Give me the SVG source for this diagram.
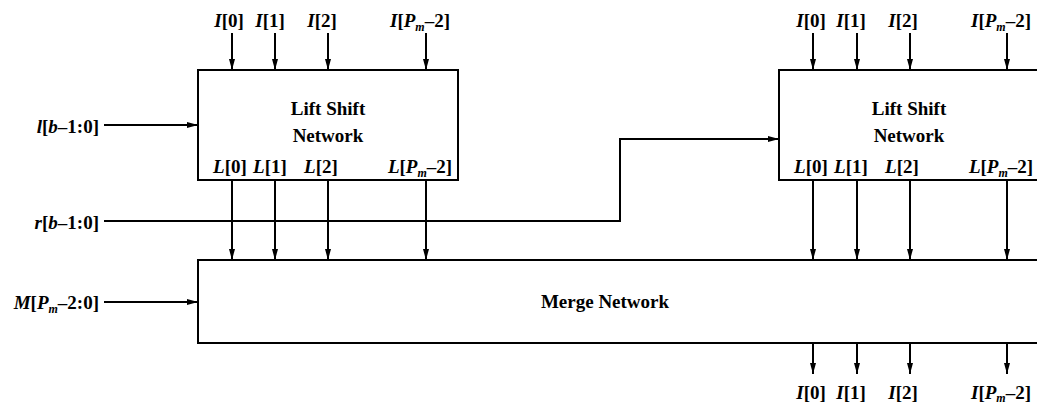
<svg xmlns="http://www.w3.org/2000/svg" width="1037" height="407" viewBox="0 0 1037 407">
<style>
.box{fill:#fff;stroke:#000;stroke-width:2}
.ln{fill:none;stroke:#000;stroke-width:2}
text{font-family:"Liberation Serif","Times New Roman",serif;font-weight:bold;font-size:19px;fill:#000}
.c{text-anchor:middle}
.e{text-anchor:end}
.i{font-style:italic}
.s{font-style:italic;font-size:12px}
</style>
<defs>
<marker id="ah" markerWidth="11" markerHeight="6" refX="11" refY="3" orient="auto" markerUnits="userSpaceOnUse">
<path d="M0,0 L11,3 L0,6 z" fill="#000"/>
</marker>
</defs>
<rect width="1037" height="407" fill="#fff"/>
<g id="lift1">
<rect class="box" x="198" y="70" width="260" height="110"/>
<text class="c" x="328" y="115">Lift Shift</text>
<text class="c" x="328" y="142">Network</text>
<text class="c" x="230" y="173"><tspan class="i">L</tspan>[0]</text>
<text class="c" x="270" y="173"><tspan class="i">L</tspan>[1]</text>
<text class="c" x="321" y="173"><tspan class="i">L</tspan>[2]</text>
<text class="c" x="420" y="173"><tspan class="i">L</tspan>[<tspan class="i">P</tspan><tspan class="s" dy="4">m</tspan><tspan dy="-4">–2]</tspan></text>
</g>
<g id="lift2">
<rect class="box" x="779" y="70" width="270" height="110"/>
<text class="c" x="909" y="115">Lift Shift</text>
<text class="c" x="909" y="142">Network</text>
<text class="c" x="811" y="173"><tspan class="i">L</tspan>[0]</text>
<text class="c" x="851" y="173"><tspan class="i">L</tspan>[1]</text>
<text class="c" x="902" y="173"><tspan class="i">L</tspan>[2]</text>
<text class="c" x="1001" y="173"><tspan class="i">L</tspan>[<tspan class="i">P</tspan><tspan class="s" dy="4">m</tspan><tspan dy="-4">–2]</tspan></text>
</g>
<g id="merge">
<rect class="box" x="198" y="260" width="850" height="83"/>
<text class="c" x="605" y="308">Merge Network</text>
</g>
<g id="labels">
<text class="c" x="229" y="27"><tspan class="i">I</tspan>[0]</text>
<text class="c" x="270" y="27"><tspan class="i">I</tspan>[1]</text>
<text class="c" x="322" y="27"><tspan class="i">I</tspan>[2]</text>
<text class="c" x="420" y="27"><tspan class="i">I</tspan>[<tspan class="i">P</tspan><tspan class="s" dy="4">m</tspan><tspan dy="-4">–2]</tspan></text>
<text class="c" x="811" y="27"><tspan class="i">I</tspan>[0]</text>
<text class="c" x="851" y="27"><tspan class="i">I</tspan>[1]</text>
<text class="c" x="903" y="27"><tspan class="i">I</tspan>[2]</text>
<text class="c" x="1001" y="27"><tspan class="i">I</tspan>[<tspan class="i">P</tspan><tspan class="s" dy="4">m</tspan><tspan dy="-4">–2]</tspan></text>
<text class="c" x="811" y="399"><tspan class="i">I</tspan>[0]</text>
<text class="c" x="851" y="399"><tspan class="i">I</tspan>[1]</text>
<text class="c" x="903" y="399"><tspan class="i">I</tspan>[2]</text>
<text class="c" x="1001" y="399"><tspan class="i">I</tspan>[<tspan class="i">P</tspan><tspan class="s" dy="3">m</tspan><tspan dy="-3">–2]</tspan></text>
<text class="e" x="99" y="133"><tspan class="i">l</tspan>[<tspan class="i">b</tspan>–1:0]</text>
<text class="e" x="99" y="229"><tspan class="i">r</tspan>[<tspan class="i">b</tspan>–1:0]</text>
<text class="e" x="99" y="309"><tspan class="i">M</tspan>[<tspan class="i">P</tspan><tspan class="s" dy="4">m</tspan><tspan dy="-4">–2:0]</tspan></text>
</g>
<g id="connectors" class="ln" marker-end="url(#ah)">
<line x1="232" y1="33" x2="232" y2="70"/>
<line x1="275" y1="33" x2="275" y2="70"/>
<line x1="328" y1="33" x2="328" y2="70"/>
<line x1="426" y1="33" x2="426" y2="70"/>
<line x1="813" y1="33" x2="813" y2="70"/>
<line x1="857" y1="33" x2="857" y2="70"/>
<line x1="910" y1="33" x2="910" y2="70"/>
<line x1="1007" y1="33" x2="1007" y2="70"/>
<line x1="232" y1="180" x2="232" y2="260"/>
<line x1="275" y1="180" x2="275" y2="260"/>
<line x1="328" y1="180" x2="328" y2="260"/>
<line x1="426" y1="180" x2="426" y2="260"/>
<line x1="813" y1="180" x2="813" y2="260"/>
<line x1="857" y1="180" x2="857" y2="260"/>
<line x1="910" y1="180" x2="910" y2="260"/>
<line x1="1007" y1="180" x2="1007" y2="260"/>
<line x1="813" y1="343" x2="813" y2="374"/>
<line x1="857" y1="343" x2="857" y2="374"/>
<line x1="910" y1="343" x2="910" y2="374"/>
<line x1="1007" y1="343" x2="1007" y2="374"/>
<line x1="104" y1="125" x2="198" y2="125"/>
<line x1="104" y1="302" x2="198" y2="302"/>
<polyline points="104,221 620,221 620,139 779,139"/>
</g>
</svg>
